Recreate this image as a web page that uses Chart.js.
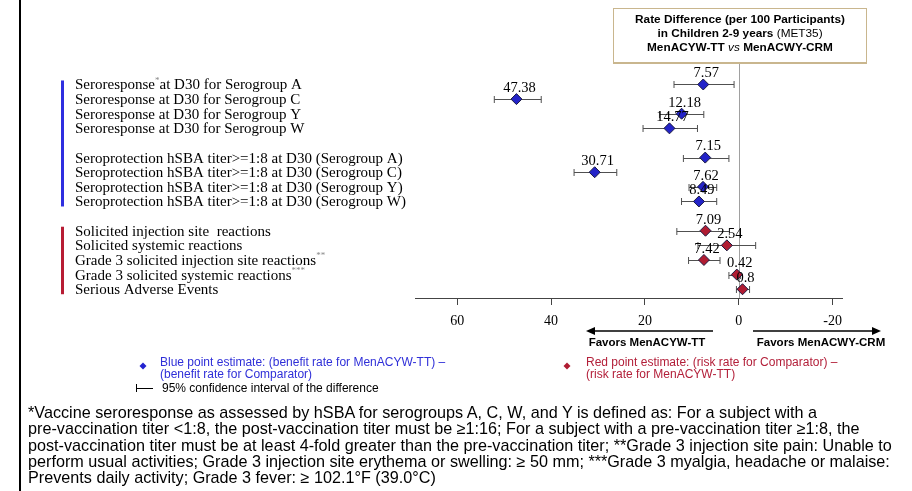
<!DOCTYPE html>
<html>
<head>
<meta charset="utf-8">
<script src="https://cdn.jsdelivr.net/npm/chart.js@4/dist/chart.umd.min.js"></script>
<style>
  html, body { margin: 0; padding: 0; background: #fff; }
  #wrap { position: relative; width: 912px; height: 491px; overflow: hidden; }
  #chart { position: absolute; left: 0; top: 0; }
  .frame { position: absolute; left: 19px; top: 0; width: 2px; height: 491px; background: #000; }
  .titlebox {
    position: absolute; left: 613px; top: 8px; width: 252px; height: 50px;
    border: 1px solid #c9b68e; border-bottom-width: 2px;
    font: bold 11.8px "Liberation Sans", Arial, sans-serif; color: #000;
    text-align: center; line-height: 14px; padding-top: 3px; box-sizing: content-box;
  }
  .titlebox .n { font-weight: normal; }
  .titlebox i { font-weight: normal; }
  .legend { position: absolute; font: 12px "Liberation Sans", Arial, sans-serif; line-height: 12px; white-space: nowrap; }
  .foot {
    position: absolute; left: 28px; top: 404px; white-space: nowrap;
    font: 16.2px "Liberation Sans", Arial, sans-serif; line-height: 16.3px; color: #000;
  }
</style>
</head>
<body>
<div id="wrap">
  <canvas id="chart" width="912" height="491"></canvas>
  <div class="frame"></div>
  <div class="titlebox">Rate Difference (per 100 Participants)<br>in Children 2-9 years <span class="n">(MET35)</span><br>MenACYW-TT <i>vs</i> MenACWY-CRM</div>
  <div class="legend" style="left:160px; top:356px; color:#2f2fd8;">Blue point estimate: (benefit rate for MenACYW-TT) –<br>(benefit rate for Comparator)</div>
  <div class="legend" style="left:162px; top:382px; color:#000;">95% confidence interval of the difference</div>
  <div class="legend" style="left:586px; top:356px; color:#b3203a;">Red point estimate: (risk rate for Comparator) –<br>(risk rate for MenACYW-TT)</div>
  <div class="foot">*Vaccine seroresponse as assessed by hSBA for serogroups A, C, W, and Y is defined as: For a subject with a<br>pre-vaccination titer &lt;1:8, the post-vaccination titer must be ≥1:16; For a subject with a pre-vaccination titer ≥1:8, the<br>post-vaccination titer must be at least 4-fold greater than the pre-vaccination titer; **Grade 3 injection site pain: Unable to<br>perform usual activities; Grade 3 injection site erythema or swelling: ≥ 50 mm; ***Grade 3 myalgia, headache or malaise:<br>Prevents daily activity; Grade 3 fever: ≥ 102.1°F (39.0°C)</div>
</div>
<script>
// Row labels ("^" marks a superscript footnote marker)
const rowLabels = [
  "Seroresponse^*^at D30 for Serogroup A",
  "Seroresponse at D30 for Serogroup C",
  "Seroresponse at D30 for Serogroup Y",
  "Seroresponse at D30 for Serogroup W",
  "Seroprotection hSBA titer>=1:8 at D30 (Serogroup A)",
  "Seroprotection hSBA titer>=1:8 at D30 (Serogroup C)",
  "Seroprotection hSBA titer>=1:8 at D30 (Serogroup Y)",
  "Seroprotection hSBA titer>=1:8 at D30 (Serogroup W)",
  "Solicited injection site  reactions",
  "Solicited systemic reactions",
  "Grade 3 solicited injection site reactions^**",
  "Grade 3 solicited systemic reactions^***",
  "Serious Adverse Events"
];
// row slot on the y scale (gaps between groups)
const rowSlots = [0, 1, 2, 3, 5, 6, 7, 8, 10, 11, 12, 13, 14];
const rowGroup = ["benefit", "benefit", "benefit", "benefit", "benefit", "benefit", "benefit", "benefit",
                  "risk", "risk", "risk", "risk", "risk"];

// point estimates and 95% CI
const estimates = [7.57, 47.38, 12.18, 14.77, 7.15, 30.71, 7.62, 8.49, 7.09, 2.54, 7.42, 0.42, -0.8];
const valueLabels = ["7.57", "47.38", "12.18", "14.77", "7.15", "30.71", "7.62", "8.49", "7.09", "2.54", "7.42", "0.42", "0.8"];
const ciUpper = [13.8, 52.1, 16.9, 20.4, 11.8, 35.1, 10.6, 12.2, 13.2, 8.7, 10.7, 2.1, 0.5];
const ciLower = [1.0, 42.1, 7.45, 8.8, 2.1, 26.0, 4.7, 4.7, 2.0, -3.6, 4.0, -0.35, -2.3];

const xTicks = [60, 40, 20, 0, -20];
const xTickLabels = ["60", "40", "20", "0", "-20"];

const groupColors = { benefit: "#2323c8", risk: "#b01c32" };
const barColors = { benefit: "#2f2fe0", risk: "#b71c34" };

const serif = '"Liberation Serif", "Times New Roman", serif';
const sans = '"Liberation Sans", Arial, sans-serif';

const points = estimates.map((v, i) => ({ x: v, y: rowSlots[i] }));

// draws zero line, CI bars, group bars, row labels, value labels, arrows
const forestPlugin = {
  id: "forest",
  beforeDatasetsDraw(chart) {
    const { ctx, chartArea, scales: { x, y } } = chart;
    ctx.save();
    // zero reference line
    const x0 = Math.round(x.getPixelForValue(0)) + 0.5;
    ctx.strokeStyle = "#a0a0a0";
    ctx.lineWidth = 1;
    ctx.beginPath();
    ctx.moveTo(x0, chartArea.top);
    ctx.lineTo(x0, chartArea.bottom);
    ctx.stroke();
    // confidence intervals
    ctx.strokeStyle = "#505050";
    estimates.forEach((v, i) => {
      const py = Math.round(y.getPixelForValue(rowSlots[i])) + 0.5;
      const xa = x.getPixelForValue(ciUpper[i]);
      const xb = x.getPixelForValue(ciLower[i]);
      ctx.beginPath();
      ctx.moveTo(xa, py); ctx.lineTo(xb, py);
      ctx.moveTo(xa, py - 3.5); ctx.lineTo(xa, py + 3.5);
      ctx.moveTo(xb, py - 3.5); ctx.lineTo(xb, py + 3.5);
      ctx.stroke();
    });
    ctx.restore();
  },
  afterDatasetsDraw(chart) {
    const { ctx, scales: { x, y } } = chart;
    ctx.save();
    // value labels above points
    ctx.font = "14.5px " + serif;
    ctx.fillStyle = "#000";
    ctx.textAlign = "center";
    ctx.textBaseline = "middle";
    estimates.forEach((v, i) => {
      ctx.fillText(valueLabels[i], x.getPixelForValue(v) + 3, y.getPixelForValue(rowSlots[i]) - 11);
    });
    // row labels on the left
    ctx.textAlign = "left";
    rowLabels.forEach((lab, i) => {
      const py = y.getPixelForValue(rowSlots[i]) + 1;
      let px = 75;
      lab.split("^").forEach((part, k) => {
        if (k % 2 === 1) {
          ctx.font = "9px " + serif;
          ctx.fillStyle = "#888";
          ctx.fillText(part, px, py - 5);
        } else {
          ctx.font = "15px " + serif;
          ctx.fillStyle = "#000";
          ctx.fillText(part, px, py);
        }
        px += ctx.measureText(part).width;
      });
    });
    // group bars
    ["benefit", "risk"].forEach(g => {
      const idx = rowGroup.map((r, i) => r === g ? i : -1).filter(i => i >= 0);
      const top = y.getPixelForValue(rowSlots[idx[0]]) - 4;
      const bot = y.getPixelForValue(rowSlots[idx[idx.length - 1]]) + 5;
      ctx.fillStyle = barColors[g];
      ctx.fillRect(61, top, 3, bot - top);
    });
    // favour arrows
    ctx.strokeStyle = "#000";
    ctx.fillStyle = "#000";
    ctx.lineWidth = 1.5;
    const ay = 331;
    ctx.beginPath(); ctx.moveTo(713, ay); ctx.lineTo(592, ay); ctx.stroke();
    ctx.beginPath(); ctx.moveTo(586, ay); ctx.lineTo(595, ay - 4); ctx.lineTo(595, ay + 4); ctx.closePath(); ctx.fill();
    ctx.beginPath(); ctx.moveTo(753, ay); ctx.lineTo(874, ay); ctx.stroke();
    ctx.beginPath(); ctx.moveTo(881, ay); ctx.lineTo(872, ay - 4); ctx.lineTo(872, ay + 4); ctx.closePath(); ctx.fill();
    ctx.font = "bold 11.5px " + sans;
    ctx.textAlign = "center";
    ctx.fillText("Favors MenACYW-TT", 647, 343);
    ctx.fillText("Favors MenACWY-CRM", 821, 343);
    // legend symbols
    const diamond = (cx, cy, r, col) => {
      ctx.fillStyle = col;
      ctx.beginPath();
      ctx.moveTo(cx, cy - r); ctx.lineTo(cx + r, cy); ctx.lineTo(cx, cy + r); ctx.lineTo(cx - r, cy);
      ctx.closePath(); ctx.fill();
    };
    diamond(143, 366, 3.5, "#2323d0");
    diamond(567, 366, 3.5, "#b01c32");
    ctx.lineWidth = 1;
    ctx.strokeStyle = "#000";
    ctx.beginPath();
    ctx.moveTo(136.5, 384); ctx.lineTo(136.5, 392);
    ctx.moveTo(136, 388.5); ctx.lineTo(153, 388.5);
    ctx.stroke();
    ctx.restore();
  }
};

new Chart(document.getElementById("chart").getContext("2d"), {
  type: "scatter",
  data: {
    datasets: [
      {
        label: "Point estimate",
        data: points,
        pointStyle: "rectRot",
        pointRadius: 5.5,
        pointBackgroundColor: rowGroup.map(g => groupColors[g]),
        pointBorderColor: "#1a1a40",
        pointBorderWidth: 1
      },
      {
        label: "centre",
        data: points,
        pointStyle: "circle",
        pointRadius: 2,
        pointBackgroundColor: "rgba(0,0,0,0)",
        pointBorderColor: "#111",
        pointBorderWidth: 1
      }
    ]
  },
  options: {
    responsive: false,
    animation: false,
    layout: { padding: { left: 415, right: 70, top: 64, bottom: 153 } },
    plugins: { legend: { display: false }, tooltip: { enabled: false } },
    scales: {
      x: {
        type: "linear",
        reverse: true,
        min: -22,
        max: 69,
        afterBuildTicks: s => { s.ticks = xTicks.map(v => ({ value: v })); },
        afterFit: s => { s.height = 40; },
        grid: { drawOnChartArea: false, drawTicks: true, tickLength: 7, color: "#444" },
        border: { color: "#444", width: 1 },
        ticks: {
          padding: 8,
          color: "#000",
          font: { family: serif, size: 14 },
          callback: (v) => xTickLabels[xTicks.indexOf(v)]
        }
      },
      y: {
        type: "linear",
        display: false,
        reverse: true,
        min: -1.4,
        max: 14.6
      }
    }
  },
  plugins: [forestPlugin]
});
</script>
</body>
</html>
